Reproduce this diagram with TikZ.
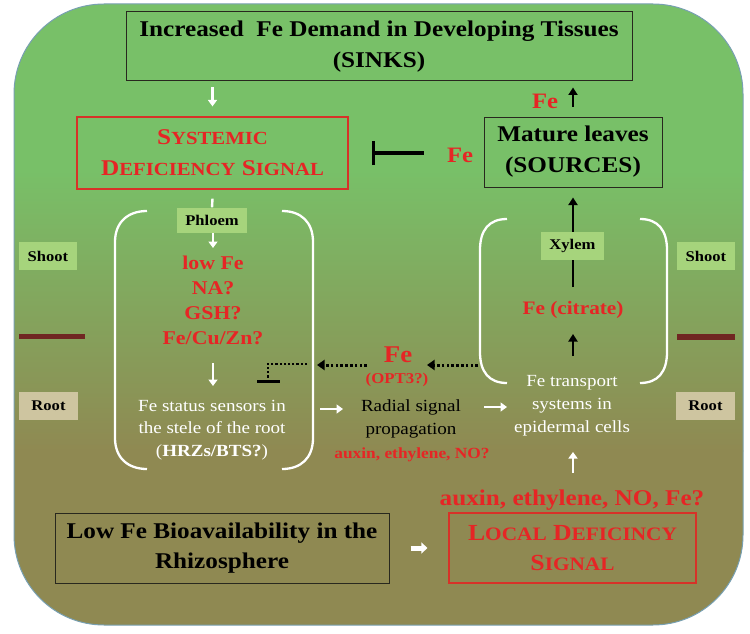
\documentclass[tikz,border=0pt]{standalone}
\usepackage{fontspec}
\setmainfont{Liberation Serif}[FakeStretch=1.12]
\usetikzlibrary{arrows.meta}
\definecolor{bgtop}{RGB}{120,192,104}
\definecolor{bgbot}{RGB}{143,137,82}
\definecolor{fred}{RGB}{230,37,37}
\definecolor{boxred}{RGB}{215,50,40}
\definecolor{lgreen}{RGB}{166,212,124}
\definecolor{beige}{RGB}{206,197,160}
\definecolor{darkbar}{RGB}{112,38,34}
\definecolor{rim}{RGB}{120,160,178}
\definecolor{boxline}{RGB}{40,40,30}
\newcommand\fz[2]{\fontsize{#1}{#2}\selectfont}
\newcommand\smcap[2]{{\fontsize{#1}{#1}\selectfont #2}}
\tikzset{
  blackbox/.style={draw=boxline, line width=1pt, inner sep=0pt, align=center, font=\bfseries\fz{22.5}{31}},
  redbox/.style={draw=boxred, line width=1.2pt, inner sep=0pt, align=center, text=fred, font=\bfseries\fz{22.5}{31}},
  lbox/.style={fill=lgreen, inner sep=0pt, font=\bfseries\fz{14.8}{16}},
  rbox/.style={fill=beige, inner sep=0pt, font=\bfseries\fz{14.8}{16}},
  redtxt/.style={text=fred, inner sep=0pt, align=center},
  wtxt/.style={text=white, inner sep=0pt, align=center, font=\fz{17}{22.5}},
  btxt/.style={text=black, inner sep=0pt, align=center, font=\fz{17}{23}},
  whitearrow/.style={draw=white, line width=2.6pt, -{Triangle[width=9pt,length=6.5pt]}},
  fatarrow/.style={draw=white, line width=5pt, -{Triangle[width=11pt,length=6pt]}},
  blackarrow/.style={draw=black, line width=2.8pt, -{Triangle[width=9pt,length=7.5pt]}},
  dotarrow/.style={draw=black, line width=3pt, dash pattern=on 2.6pt off 2.2pt, -{Triangle[width=10pt,length=7.5pt]}},
  dotline/.style={draw=black, line width=2.4pt, dash pattern=on 2.2pt off 2pt},
  inhib/.style={draw=black, line width=3.4pt, -{Bar[width=24pt]}},
  bracket/.style={draw=white, line width=2.3pt},
  barstyle/.style={fill=darkbar, inner sep=0pt, minimum width=#1, minimum height=5.5},
}
\begin{document}
\begin{tikzpicture}[x=1pt,y=-1pt]
\useasboundingbox (0,0) rectangle (750,634);
% background
\begin{scope}
\clip[rounded corners=90] (14,4) rectangle (743,625);
\fill[bgtop] (0,0) rectangle (750,171);
\shade[top color=bgtop, bottom color=bgbot] (0,170) rectangle (750,451);
\fill[bgbot] (0,450) rectangle (750,634);
\end{scope}
\draw[rim, line width=1pt, rounded corners=90] (14,4) rectangle (743,625);

% top boxes
\node[blackbox, minimum width=506, minimum height=69] (sinks) at (379,46.5)
  {Increased\ \ Fe Demand in Developing Tissues\\(SINKS)};
\node[redbox, minimum width=271, minimum height=72] (sys) at (212.5,153)
  {S\smcap{18.5}{YSTEMIC}\\D\smcap{18.5}{EFICIENCY} S\smcap{18.5}{IGNAL}};
\node[blackbox, minimum width=178, minimum height=70] (mature) at (573,152)
  {Mature leaves\\(SOURCES)};

\node[redtxt, font=\bfseries\fz{22}{24}] (fetop) at (545,101) {Fe};
\draw[blackarrow] ([yshift=10pt]mature.north) -- ([yshift=-6pt]sinks.south -| mature.north);
\draw[whitearrow] ([yshift=-6pt]sinks.south -| sys.north) -- ([yshift=10pt]sys.north);

\node[redtxt, font=\bfseries\fz{22}{24}] (feinh) at (460,155) {Fe};
\coordinate (inhend) at (372,153);
\draw[inhib, shorten <=23pt] (feinh.west |- inhend) -- (inhend);

% left bracket group (phloem)
\draw[bracket] (147,211) .. controls (128,211) and (115,222) .. (115,242) -- (115,438) .. controls (115,458) and (128,469) .. (147,469);
\draw[bracket] (282,211) .. controls (301,211) and (313,222) .. (313,242) -- (313,438) .. controls (313,458) and (301,469) .. (282,469);
\node[lbox, minimum width=70, minimum height=25] (phloem) at (212,220) {Phloem};
\draw[draw=white, line width=2.4pt] ([yshift=-9pt]sys.south) -- (phloem.north);
\node[redtxt, font=\bfseries\fz{19.5}{25}] (list) at (213,300) {low Fe\\NA?\\GSH?\\Fe/Cu/Zn?};
\coordinate (p1) at (213,233);
\coordinate (p2) at (213,248);
\draw[whitearrow] (p1) -- (p2);
\coordinate (s1) at (213,363);
\coordinate (s2) at (213,386);
\draw[whitearrow] (s1) -- (s2);
\node[wtxt] (sensors) at (212,430) {Fe status sensors in\\the stele of the root\\(\textbf{HRZs/BTS?})};

% dotted inhibition
\coordinate (d1) at (307,364);
\coordinate (d2) at (268,364);
\coordinate (d3) at (268,379);
\draw[dotline] (d1) -- (d2) -- (d3);
\coordinate (bar1) at (257,381.5);
\coordinate (bar2) at (280,381.5);
\draw[line width=2.8pt] (bar1) -- (bar2);

% Fe (OPT3?)
\node[redtxt, font=\bfseries\fz{24}{26}] (feopt) at (398,355) {Fe};
\node[redtxt, font=\bfseries\fz{15}{17}] (opt3) at (397,380) {(OPT3?)};
\coordinate (da1) at (367,365);
\coordinate (da2) at (317,365);
\draw[dotarrow] (da1) -- (da2);
\coordinate (db1) at (478,365);
\coordinate (db2) at (427,365);
\draw[dotarrow] (db1) -- (db2);

% middle texts
\node[btxt] (radial) at (411,418.5) {Radial signal\\propagation};
\node[redtxt, font=\bfseries\fz{15.5}{18}] (auxs) at (412,455) {auxin, ethylene, NO?};
\coordinate (r1) at (320,409);
\coordinate (r2) at (343,409);
\draw[whitearrow] (r1) -- (r2);
\coordinate (t1) at (484,407);
\coordinate (t2) at (507,407);
\draw[whitearrow] (t1) -- (t2);

% right bracket group (xylem)
\draw[bracket] (507,219) .. controls (489,219) and (480,230) .. (480,250) -- (480,352) .. controls (480,372) and (489,383) .. (507,383);
\draw[bracket] (640,219) .. controls (658,219) and (667,230) .. (667,250) -- (667,352) .. controls (667,372) and (658,383) .. (640,383);
\coordinate (x0) at (573,287);
\draw[blackarrow] (x0) -- ([yshift=-10pt]mature.south);
\node[lbox, minimum width=63, minimum height=28] (xylem) at (572.5,246) {Xylem};
\node[redtxt, font=\bfseries\fz{19}{21}] (fecit) at (573,310) {Fe (citrate)};
\coordinate (c1) at (573,356);
\coordinate (c2) at (573,334);
\draw[blackarrow] (c1) -- (c2);
\node[wtxt, font=\fz{17}{23}] (transp) at (572,406) {Fe transport\\systems in\\epidermal cells};
\coordinate (u1) at (573,473);
\coordinate (u2) at (573,452);
\draw[whitearrow] (u1) -- (u2);

% shoot / root markers
\node[lbox, minimum width=58, minimum height=28] (shootL) at (48,256) {Shoot};
\node[lbox, minimum width=58, minimum height=28] (shootR) at (706,256) {Shoot};
\node[barstyle=66] (barL) at (52,336.5) {};
\node[barstyle=58] (barR) at (706,337) {};
\node[rbox, minimum width=59, minimum height=28] (rootL) at (48.5,406) {Root};
\node[rbox, minimum width=59, minimum height=28] (rootR) at (705.5,406) {Root};

% bottom
\node[redtxt, font=\bfseries\fz{22.5}{24}] (auxb) at (572,500) {auxin, ethylene, NO, Fe?};
\node[blackbox, font=\bfseries\fz{22.5}{30}, minimum width=334, minimum height=70] (lowfe) at (222,548)
  {Low Fe Bioavailability in the\\Rhizosphere};
\node[redbox, font=\bfseries\fz{23}{30}, minimum width=247, minimum height=70] (local) at (572.5,548)
  {L\smcap{19}{OCAL} D\smcap{19}{EFICINCY}\\S\smcap{19}{IGNAL}};
\draw[fatarrow, shorten <=21pt, shorten >=21pt] (lowfe.east) -- (local.west);
\end{tikzpicture}
\end{document}
